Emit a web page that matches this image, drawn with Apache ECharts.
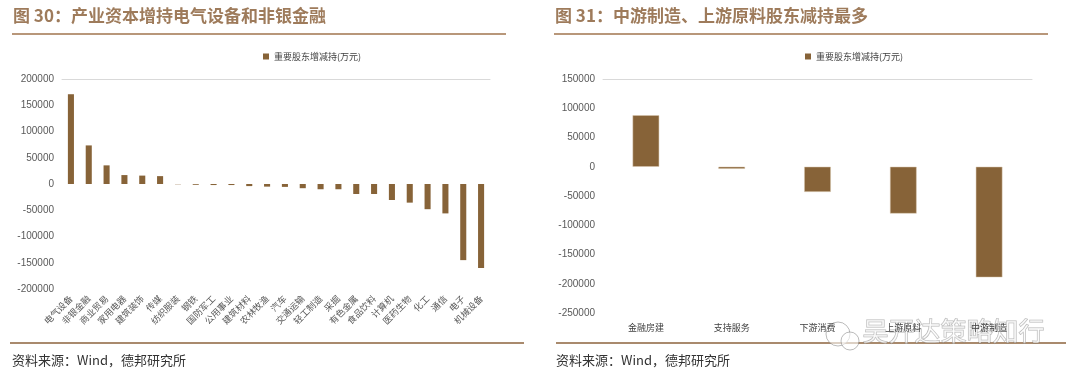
<!DOCTYPE html>
<html><head><meta charset="utf-8">
<script src="https://cdn.jsdelivr.net/npm/echarts@6/dist/echarts.min.js"></script>
<style>html,body{margin:0;padding:0;background:#fff}#c{width:1080px;height:384px}</style>
</head><body><div id="c"></div>
<script>
const leftCats = ['电气设备','非银金融','商业贸易','家用电器','建筑装饰','传媒','纺织服装','钢铁','国防军工','公用事业','建筑材料','农林牧渔','汽车','交通运输','轻工制造','采掘','有色金属','食品饮料','计算机','医药生物','化工','通信','电子','机械设备'];
const leftVals = [171000, 73500, 35500, 17000, 16000, 15000, -500, -1500, -2000, -2000, -4000, -5000, -5500, -8000, -10000, -10000, -19000, -19000, -30500, -35500, -48000, -56000, -145000, -160000];
const rightCats = ['金融房建','支持服务','下游消费','上游原料','中游制造'];
const rightVals = [88000, -3500, -43000, -80000, -189000];
const seriesName = '重要股东增减持(万元)';
const leftTitle = '图 30：产业资本增持电气设备和非银金融';
const rightTitle = '图 31：中游制造、上游原料股东减持最多';
const footer = '资料来源：Wind，德邦研究所';

const barColor = '#876338';
const cjk = '"Noto Sans CJK SC", sans-serif';
const num = '"Liberation Sans", Arial, sans-serif';

const chart = echarts.init(document.getElementById('c'));
const yLab = {color:'#595959', fontSize:10, fontFamily:num, margin:8, formatter: v => String(v)};
const legTxt = {fontSize:9, color:'#404040', fontFamily:cjk};
chart.setOption({
  animation:false,
  legend:[
    {data:[seriesName], left:258, top:47, itemWidth:6, itemHeight:6, itemGap:4, textStyle:legTxt, icon:'rect', selectedMode:false, itemStyle:{borderWidth:0}},
    {data:[seriesName+' '], left:800, top:47, itemWidth:6, itemHeight:6, textStyle:legTxt, icon:'rect', selectedMode:false, itemStyle:{borderWidth:0, color:barColor}}
  ],
  grid:[
    {left:62, top:79, width:428, height:210},
    {left:603, top:79, width:429, height:234}
  ],
  xAxis:[
    {gridIndex:0, type:'category', data:leftCats, axisLine:{show:false}, axisTick:{show:false},
     axisLabel:{rotate:45, fontSize:9, color:'#595959', fontFamily:cjk, margin:8, interval:0}},
    {gridIndex:0, type:'category', data:leftCats, axisLine:{onZero:true, lineStyle:{color:'#d9d9d9'}}, axisTick:{show:false}, axisLabel:{show:false}},
    {gridIndex:1, type:'category', data:rightCats, axisLine:{show:false}, axisTick:{show:false},
     axisLabel:{fontSize:9, color:'#404040', fontFamily:cjk, margin:10, interval:0}},
    {gridIndex:1, type:'category', data:rightCats, axisLine:{onZero:true, lineStyle:{color:'#d9d9d9'}}, axisTick:{show:false}, axisLabel:{show:false}}
  ],
  yAxis:[
    {gridIndex:0, type:'value', min:-200000, max:200000, interval:50000, splitLine:{show:false}, axisLine:{show:false}, axisTick:{show:false}, axisLabel:yLab},
    {gridIndex:1, type:'value', min:-250000, max:150000, interval:50000, splitLine:{show:false}, axisLine:{show:false}, axisTick:{show:false}, axisLabel:yLab}
  ],
  series:[
    {name:seriesName, type:'bar', xAxisIndex:0, yAxisIndex:0, data:leftVals, barWidth:'34%', itemStyle:{color:barColor}},
    {name:seriesName+' ', type:'bar', xAxisIndex:2, yAxisIndex:1, data:rightVals, barWidth:'31%', itemStyle:{color:barColor, borderColor:'#d9c7ae', borderWidth:0.5}}
  ],
  graphic:[
    {type:'text', left:13, top:7, style:{text:leftTitle, fill:'#9e7b5b', font:'bold 17px '+cjk}},
    {type:'text', left:555, top:7, style:{text:rightTitle, fill:'#9e7b5b', font:'bold 17px '+cjk}},
    {type:'rect', shape:{x:12, y:33, width:494, height:2}, style:{fill:'#b8977a'}},
    {type:'rect', shape:{x:554, y:33, width:494, height:2}, style:{fill:'#b8977a'}},
    {type:'rect', shape:{x:10, y:342, width:514, height:2}, style:{fill:'#a98a6d'}},
    {type:'rect', shape:{x:556, y:342, width:510, height:2}, style:{fill:'#a98a6d'}},
    {type:'text', left:12, top:354, style:{text:footer, fill:'#333', font:'13px '+cjk}},
    {type:'text', left:556, top:354, style:{text:footer, fill:'#333', font:'13px '+cjk}},
    {type:'text', left:862, top:318, style:{text:'吴开达策略知行', fill:'rgba(255,255,255,0.6)', stroke:'rgba(120,120,120,0.55)', lineWidth:1, font:'26px '+cjk}},
    {type:'circle', shape:{cx:838, cy:334, r:12}, style:{fill:'rgba(255,255,255,0.6)', stroke:'rgba(120,120,120,0.5)', lineWidth:1}},
    {type:'circle', shape:{cx:850, cy:341, r:9}, style:{fill:'rgba(255,255,255,0.6)', stroke:'rgba(120,120,120,0.5)', lineWidth:1}}
  ]
});
</script></body></html>
